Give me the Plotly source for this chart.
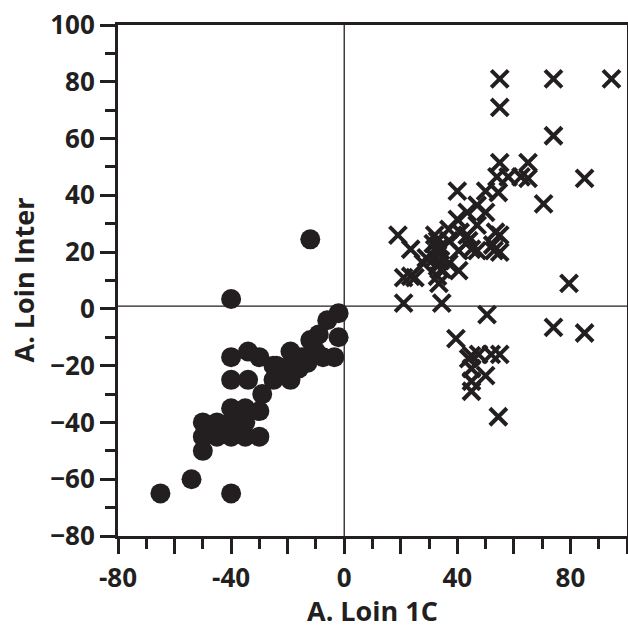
import plotly.graph_objects as go

# ---- data ----
circle_x = [-65, -54, -40, -50, -50, -50, -45, -45, -40, -40, -40, -35, -35, -35, -30, -30, -29,
            -40, -34, -40, -34, -30, -40, -12, -25, -25, -24, -19, -19, -19, -16, -13, -12, -9,
            -6, -2, -2, -3.5, -7.5, -10, -15, -22]
circle_y = [-65, -60, -65, -50, -45, -40, -45, -40, -45, -40, -35, -45, -40, -35, -45, -36, -30,
            -25, -25, -17, -15, -17, 3.5, 24.5, -25, -20, -20, -25, -15, -20, -21, -19, -11, -9,
            -4, -1.5, -10, -17, -17, -15, -17, -22]

cross_x = [55, 74, 94.5, 55, 74,
           55, 65, 62.5, 65, 58, 54, 85,
           54.5, 40, 50, 70.5,
           47, 50, 43.5, 40, 47, 53.5, 37, 41, 43.5, 44, 37,
           55, 55, 52.5, 53, 47, 45, 40.5,
           19, 23.5, 32, 31.5, 34, 32, 29, 34, 28, 37,
           40.5, 34.5, 33, 33.5, 21, 23.5, 25, 21, 34.5, 79.5,
           50.5, 74, 85, 39.5, 45, 47.5, 52, 55, 44, 45, 50, 45, 45, 54.5,
           33, 33, 33, 34]
cross_y = [81, 81, 81, 71, 61,
           51.5, 51.5, 46.5, 46, 46.5, 46.5, 46,
           41, 41.5, 41.5, 37,
           36.5, 34, 34, 31.5, 29.5, 27, 28, 27, 26, 24, 24,
           26, 20, 22.5, 20.5, 20.5, 21, 20.5,
           26, 21, 26, 23, 20.5, 18, 18, 17, 16, 16,
           13.5, 14, 11.5, 9, 11, 11.5, 11, 2, 2, 9,
           -2, -6.5, -8.5, -10.5, -16.5, -16, -16, -16, -17.5, -21, -23.5, -25.5, -29, -38,
           24, 20, 15, 22]

x_range = [-80, 100]
y_range = [-80, 100]
x_tickvals = [-80, -60, -40, -20, 0, 20, 40, 60, 80, 100]
x_ticktext = ["-80", "", "-40", "", "0", "", "40", "", "80", ""]
y_tickvals = [-80, -60, -40, -20, 0, 20, 40, 60, 80, 100]
x_title = "A. Loin 1C"
y_title = "A. Loin Inter"
ref_x = 0
ref_y = 1

INK = "#231f20"
FONT = "Open Sans"

fig = go.Figure()
fig.add_trace(go.Scatter(
    x=circle_x, y=circle_y, mode="markers",
    marker=dict(symbol="circle", size=20, color=INK, line=dict(width=0)),
    showlegend=False, cliponaxis=False))
fig.add_trace(go.Scatter(
    x=cross_x, y=cross_y, mode="markers",
    marker=dict(symbol="x-thin-open", size=17, color=INK, line=dict(width=4, color=INK)),
    showlegend=False, cliponaxis=False))

fig.add_shape(type="line", xref="x", yref="paper", x0=ref_x, x1=ref_x, y0=0, y1=1,
              line=dict(color=INK, width=1.3), layer="below")
fig.add_shape(type="line", xref="paper", yref="y", x0=0, x1=1, y0=ref_y, y1=ref_y,
              line=dict(color=INK, width=1.3), layer="below")

axis_common = dict(
    showgrid=False, zeroline=False, showline=True, mirror=True, automargin=False,
    linecolor=INK, linewidth=3, ticks="outside", ticklen=15, tickwidth=3,
    tickcolor=INK,
    tickfont=dict(family=FONT, size=26, color=INK, weight="bold"),
    minor=dict(ticks="outside", ticklen=10, tickwidth=3, tickcolor=INK, dtick=10),
)

fig.update_xaxes(range=x_range, tickmode="array", tickvals=x_tickvals, ticktext=x_ticktext,
                 ticklabelstandoff=2, **axis_common)
fig.update_yaxes(range=y_range, tickmode="array", tickvals=y_tickvals,
                 ticklabelstandoff=0, **axis_common)

title_font = dict(family=FONT, size=27, color=INK, weight="bold")
fig.add_annotation(text=x_title, xref="paper", yref="paper", x=0.5, y=0,
                   yshift=-74, yanchor="middle", xanchor="center", showarrow=False, font=title_font)
fig.add_annotation(text=y_title, xref="paper", yref="paper", x=0, y=0.5,
                   xshift=-95, xanchor="center", yanchor="middle", textangle=-90,
                   showarrow=False, font=title_font)

fig.update_layout(
    width=628, height=625,
    margin=dict(l=118, r=1, t=25, b=89),
    plot_bgcolor="white", paper_bgcolor="white",
    font=dict(family=FONT, color=INK),
)

fig.write_html("out.html", config={"displayModeBar": False},
               post_script="document.body.style.margin='0';document.body.style.overflow='hidden';")
